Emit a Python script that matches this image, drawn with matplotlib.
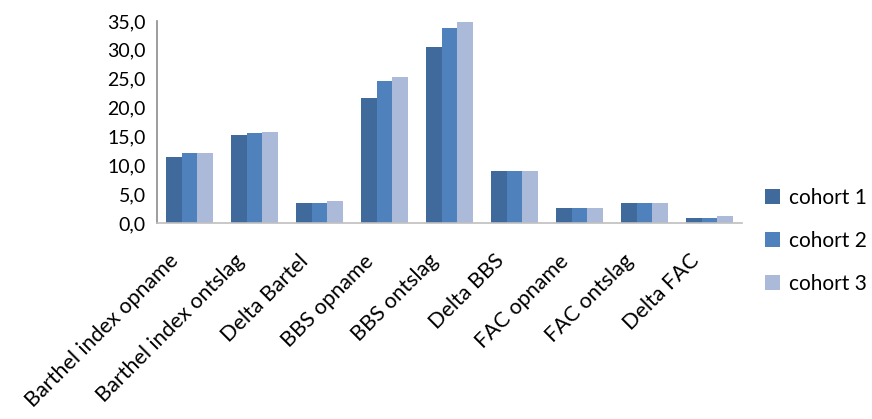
import matplotlib
matplotlib.use("Agg")
import matplotlib.pyplot as plt
import matplotlib.transforms as mtransforms
import numpy as np

categories = ["Barthel index opname", "Barthel index ontslag", "Delta Bartel",
              "BBS opname", "BBS ontslag", "Delta BBS",
              "FAC opname", "FAC ontslag", "Delta FAC"]
series_names = ["cohort 1", "cohort 2", "cohort 3"]
cohort1 = [11.4, 15.3, 3.5, 21.7, 30.5, 9.0, 2.6, 3.5, 0.9]
cohort2 = [12.1, 15.6, 3.5, 24.6, 33.8, 9.0, 2.6, 3.5, 0.9]
cohort3 = [12.1, 15.8, 3.8, 25.3, 34.9, 9.0, 2.6, 3.5, 1.2]
yticks = [0, 5, 10, 15, 20, 25, 30, 35]
ytick_labels = ["0,0", "5,0", "10,0", "15,0", "20,0", "25,0", "30,0", "35,0"]

colors = ["#40699C", "#4F81BD", "#ABBAD8"]
plt.rcParams['font.family'] = ['Lato', 'DejaVu Sans']

fig = plt.figure(figsize=(8.72, 4.19), dpi=100)
ax = fig.add_axes([157/872, 1 - 223/419, (742-157)/872, (223-21)/419])

x = np.arange(len(categories))
w = 0.236
for i, (vals, name) in enumerate(zip([cohort1, cohort2, cohort3], series_names)):
    ax.bar(x + (i - 1) * w, vals, width=w, color=colors[i], label=name, zorder=2)

ax.set_xlim(-0.5, len(categories) - 0.5)
ax.set_ylim(0, 35)
ax.set_yticks(yticks)
ax.set_yticklabels(ytick_labels, fontsize=14)
ax.set_xticks(x)
ax.set_xticklabels(categories, fontsize=15.5, rotation=45, ha='right',
                   rotation_mode='anchor')
ax.tick_params(axis='both', length=0)
ax.tick_params(axis='y', pad=8)
ax.tick_params(axis='x', pad=10)
offset = mtransforms.ScaledTranslation(-21/100, -14/100, fig.dpi_scale_trans)
for lbl in ax.get_xticklabels():
    lbl.set_transform(lbl.get_transform() + offset)
for s in ['top', 'right']:
    ax.spines[s].set_visible(False)
ax.spines['left'].set_color('#8C8C8C')
ax.spines['bottom'].set_color('#BFBFBF')
ax.spines['left'].set_linewidth(1.2)
ax.spines['bottom'].set_linewidth(1.2)

fig.legend(loc='center left', bbox_to_anchor=(755/872, 1 - 241/419), frameon=False,
           fontsize=15, handlelength=0.7, handleheight=0.7, handletextpad=0.45,
           labelspacing=1.1, borderpad=0)

fig.savefig("out.png", dpi=100)
